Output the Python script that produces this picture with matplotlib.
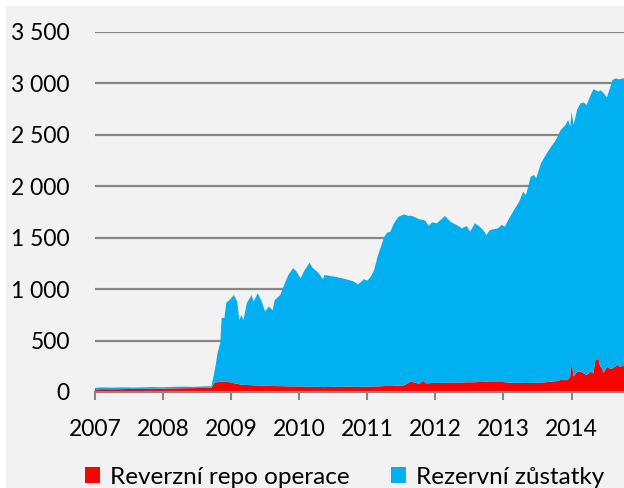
import numpy as np
import matplotlib.pyplot as plt
from matplotlib.patches import Patch, Rectangle
from matplotlib.ticker import FuncFormatter

plt.rcParams['font.family'] = ['Lato', 'DejaVu Sans']

# time axis in decimal years, values in bn USD
roky = [2007.00, 2007.10, 2007.25, 2007.40, 2007.55, 2007.70, 2007.85, 2008.00,
        2008.15, 2008.30, 2008.45, 2008.60, 2008.71, 2008.74, 2008.77, 2008.80,
        2008.84, 2008.86, 2008.90, 2008.93, 2008.97, 2009.01, 2009.04, 2009.09,
        2009.12, 2009.15, 2009.18, 2009.23, 2009.30, 2009.33, 2009.39, 2009.45,
        2009.50, 2009.55, 2009.61, 2009.64, 2009.72, 2009.79, 2009.84, 2009.91,
        2009.96, 2010.02, 2010.08, 2010.15, 2010.20, 2010.28, 2010.35, 2010.37,
        2010.52, 2010.69, 2010.80, 2010.86, 2010.95, 2011.00, 2011.05, 2011.10,
        2011.15, 2011.20, 2011.25, 2011.29, 2011.34, 2011.39, 2011.46, 2011.54,
        2011.61, 2011.63, 2011.68, 2011.76, 2011.83, 2011.86, 2011.90, 2011.95,
        2012.02, 2012.14, 2012.22, 2012.31, 2012.39, 2012.46, 2012.51, 2012.58,
        2012.65, 2012.70, 2012.75, 2012.80, 2012.92, 2012.97, 2013.02, 2013.07,
        2013.14, 2013.23, 2013.29, 2013.33, 2013.40, 2013.45, 2013.48, 2013.55,
        2013.62, 2013.70, 2013.77, 2013.84, 2013.91, 2013.95, 2013.98, 2014.00,
        2014.03, 2014.08, 2014.13, 2014.18, 2014.22, 2014.28, 2014.32, 2014.35,
        2014.40, 2014.42, 2014.45, 2014.47, 2014.52, 2014.57, 2014.60, 2014.65,
        2014.67, 2014.70, 2014.77]

# top of the stacked area (repo + reserves)
celkem = [40, 45, 42, 45, 43, 45, 48, 46,
          50, 52, 50, 55, 55, 150, 250, 380,
          476, 720, 720, 870, 890, 920, 943, 878,
          700, 749, 700, 865, 943, 878, 962, 878,
          781, 830, 797, 894, 943, 1059, 1138, 1205,
          1170, 1105, 1186, 1257, 1205, 1160, 1096, 1138,
          1121, 1096, 1075, 1045, 1096, 1082, 1121, 1186,
          1316, 1413, 1510, 1549, 1560, 1640, 1705, 1727,
          1711, 1715, 1705, 1679, 1672, 1660, 1614, 1650,
          1640, 1711, 1656, 1624, 1591, 1614, 1559, 1640,
          1607, 1575, 1527, 1575, 1591, 1624, 1608, 1672,
          1753, 1850, 1947, 1915, 2093, 2110, 2078, 2223,
          2304, 2385, 2450, 2547, 2596, 2645, 2580, 2725,
          2596, 2742, 2807, 2815, 2790, 2888, 2943, 2935,
          2920, 2935, 2920, 2905, 2865, 2968, 3033, 3050,
          3045, 3040, 3050]

repo = [25, 28, 27, 28, 30, 30, 32, 33,
        35, 37, 38, 40, 42, 75, 95, 95,
        100, 100, 98, 100, 95, 92, 85, 80,
        75, 72, 70, 68, 66, 65, 64, 62,
        60, 60, 58, 58, 57, 56, 55, 55,
        54, 55, 52, 52, 50, 50, 48, 48,
        50, 52, 52, 50, 52, 53, 52, 54,
        55, 56, 58, 58, 58, 60, 62, 65,
        90, 100, 95, 80, 110, 85, 85, 88,
        88, 90, 90, 92, 92, 95, 95, 95,
        98, 98, 100, 98, 98, 98, 95, 92,
        90, 90, 88, 88, 88, 90, 90, 92,
        95, 100, 105, 117, 115, 125, 150, 311,
        149, 198, 200, 180, 165, 198, 181, 311,
        311, 250, 230, 185, 246, 224, 230, 250,
        269, 246, 255]

rezervy = np.array(celkem) - np.array(repo)

labelRepo = 'Reverzní repo operace'
labelRezervy = 'Rezervní zůstatky'
barvaRepo = '#ff0000'
barvaRezervy = '#00b0f0'
tickerX = np.arange(2007, 2015)
tickerY = np.arange(0, 3501, 500)

W, H = 624, 488
fig = plt.figure(figsize=(W / 100, H / 100), dpi=100, facecolor='white')
fig.patches.append(Rectangle((6 / W, 0), 1, (H - 6) / H, transform=fig.transFigure,
                             facecolor='#f2f2f2', edgecolor='none', zorder=-10))

ax = fig.add_axes([95 / W, (H - 392) / H, (W - 95) / W, (392 - 32) / H])
ax.set_facecolor('none')
ax.stackplot(roky, repo, rezervy, colors=[barvaRepo, barvaRezervy], linewidth=0)

ax.set_xlim(2007, 2014.77)
ax.set_ylim(0, 3500)
ax.set_xticks(tickerX)
ax.set_yticks(tickerY)
ax.yaxis.set_major_formatter(FuncFormatter(lambda v, pos: '{:,.0f}'.format(v).replace(',', ' ')))

ax.grid(axis='y', color='#878787', linewidth=1.6, zorder=0)
ax.set_axisbelow(True)
for s in ['top', 'right', 'left']:
    ax.spines[s].set_visible(False)
ax.spines['bottom'].set_color('#878787')
ax.spines['bottom'].set_linewidth(1.6)
ax.spines['bottom'].set_zorder(5)

ax.tick_params(axis='y', length=0, pad=18, labelsize=16.5, labelcolor='black')
ax.tick_params(axis='x', length=6, width=1.5, color='#878787', direction='out',
               pad=13.5, labelsize=16.5, labelcolor='black')

handles = [Patch(facecolor=barvaRepo, label=labelRepo),
           Patch(facecolor=barvaRezervy, label=labelRezervy)]
fig.legend(handles=handles, loc='center', bbox_to_anchor=(0.552, 0.022),
           bbox_transform=fig.transFigure, ncol=2, frameon=False, fontsize=17.5,
           handlelength=0.62, handleheight=0.62, handletextpad=0.4,
           columnspacing=1.7, borderaxespad=0)

fig.savefig('out.png', dpi=100, facecolor='white')
plt.close(fig)
